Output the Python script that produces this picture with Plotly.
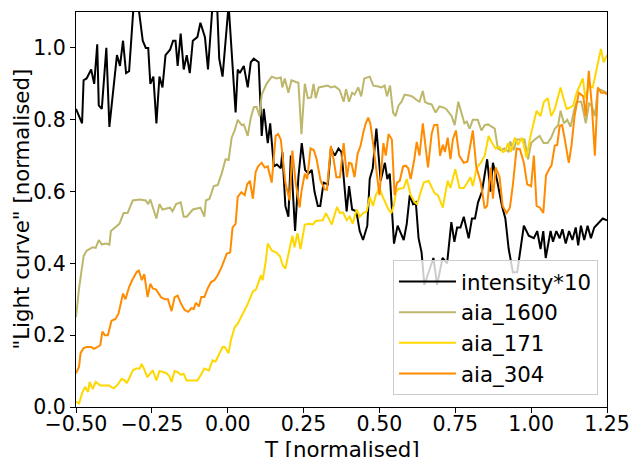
import plotly.graph_objects as go

# ---- data ----
x_int = [-0.5, -0.48, -0.475, -0.465, -0.45, -0.44, -0.43, -0.425, -0.415, -0.40, -0.39, -0.365, -0.355,
         -0.345, -0.335, -0.325, -0.31, -0.295, -0.28, -0.27, -0.262, -0.255, -0.245, -0.235, -0.225,
         -0.215, -0.205, -0.19, -0.18, -0.172, -0.165, -0.155, -0.145, -0.135, -0.125, -0.115, -0.10,
         -0.09, -0.075, -0.065, -0.05, -0.035, -0.028, -0.017, 0.003, 0.013, 0.026, 0.033, 0.04, 0.053,
         0.066, 0.076, 0.086, 0.102, 0.112, 0.119, 0.132, 0.14, 0.152, 0.162, 0.175, 0.18, 0.19, 0.2,
         0.208, 0.222, 0.233, 0.244, 0.255, 0.266, 0.277, 0.286, 0.297, 0.305, 0.316, 0.33, 0.34, 0.353,
         0.365, 0.375, 0.392, 0.40, 0.41, 0.424, 0.435, 0.446, 0.46, 0.468, 0.478, 0.49, 0.504, 0.518,
         0.526, 0.534, 0.548, 0.56, 0.58, 0.59, 0.60, 0.611, 0.62, 0.629, 0.639, 0.648, 0.678, 0.69,
         0.708, 0.723, 0.737, 0.747, 0.756, 0.767, 0.778, 0.794, 0.805, 0.815, 0.825, 0.838, 0.855,
         0.866, 0.874, 0.888, 0.904, 0.915, 0.926, 0.94, 0.954, 0.965, 0.976, 0.992, 1.009, 1.02, 1.031,
         1.04, 1.048, 1.064, 1.072, 1.083, 1.094, 1.103, 1.114, 1.125, 1.136, 1.147, 1.155, 1.164, 1.175,
         1.186, 1.197, 1.208, 1.219, 1.236, 1.25]
y_int = [0.83, 0.79, 0.91, 0.915, 0.94, 0.90, 1.01, 0.84, 0.83, 1.00, 0.78, 0.98, 0.95,
         1.02, 0.93, 0.935, 1.12, 1.12, 1.02, 1.00, 1.00, 0.90, 0.92, 0.79, 0.92,
         0.89, 0.98, 0.995, 1.02, 1.02, 0.95, 1.04, 0.94, 0.98, 0.93, 1.02, 1.03,
         1.07, 1.03, 0.94, 1.12, 1.12, 0.97, 0.92, 1.12, 0.98, 0.82, 0.94, 0.93, 0.95,
         0.89, 0.96, 0.97, 0.96, 0.755, 0.83, 0.735, 0.79, 0.67, 0.675, 0.665, 0.71, 0.56, 0.53,
         0.70, 0.49, 0.64, 0.735, 0.66, 0.65, 0.66, 0.60, 0.56, 0.56, 0.625, 0.62, 0.72, 0.70,
         0.72, 0.71, 0.545, 0.615, 0.55, 0.545, 0.49, 0.465, 0.505, 0.635, 0.665, 0.775, 0.63, 0.68,
         0.635, 0.65, 0.455, 0.505, 0.465, 0.51, 0.59, 0.565, 0.57, 0.47, 0.43, 0.34, 0.415, 0.34,
         0.415, 0.40, 0.515, 0.46, 0.50, 0.50, 0.53, 0.47, 0.525, 0.525, 0.57, 0.60, 0.69,
         0.60, 0.68, 0.63, 0.56, 0.525, 0.44, 0.375, 0.375, 0.44, 0.505, 0.477, 0.47, 0.49, 0.44,
         0.49, 0.415, 0.49, 0.46, 0.49, 0.47, 0.495, 0.455, 0.49, 0.465, 0.50, 0.45, 0.505, 0.465,
         0.505, 0.47, 0.50, 0.51, 0.525, 0.52]

x_1600 = [-0.5, -0.49, -0.475, -0.465, -0.445, -0.435, -0.425, -0.415, -0.40, -0.39, -0.385, -0.37,
          -0.357, -0.343, -0.33, -0.313, -0.29, -0.27, -0.262, -0.255, -0.235, -0.225, -0.215, -0.205,
          -0.19, -0.182, -0.17, -0.155, -0.145, -0.135, -0.115, -0.09, -0.077, -0.072, -0.06, -0.046,
          -0.033, -0.02, -0.007, 0.003, 0.013, 0.023, 0.033, 0.046, 0.053, 0.066, 0.076, 0.086, 0.095,
          0.105, 0.112, 0.128, 0.145, 0.16, 0.175, 0.18, 0.188, 0.2, 0.21, 0.225, 0.233, 0.243, 0.254,
          0.264, 0.275, 0.283, 0.29, 0.30, 0.32, 0.33, 0.34, 0.353, 0.366, 0.37, 0.382, 0.39, 0.40,
          0.41, 0.418, 0.43, 0.44, 0.45, 0.468, 0.48, 0.493, 0.507, 0.517, 0.525, 0.535, 0.545, 0.553,
          0.563, 0.573, 0.583, 0.594, 0.608, 0.623, 0.632, 0.643, 0.65, 0.66, 0.672, 0.685, 0.698,
          0.708, 0.72, 0.738, 0.748, 0.76, 0.77, 0.78, 0.788, 0.797, 0.808, 0.824, 0.836, 0.847, 0.858,
          0.87, 0.88, 0.89, 0.9, 0.912, 0.926, 0.931, 0.942, 0.953, 0.967, 0.978, 0.99, 1.0, 1.012,
          1.028, 1.041, 1.054, 1.066, 1.078, 1.089, 1.097, 1.108, 1.119, 1.13, 1.141, 1.15, 1.165,
          1.173, 1.18, 1.191, 1.199, 1.21, 1.22, 1.231, 1.25]
y_1600 = [0.25, 0.33, 0.42, 0.435, 0.445, 0.443, 0.465, 0.453, 0.455, 0.452, 0.49, 0.50,
          0.51, 0.54, 0.54, 0.575, 0.578, 0.575, 0.565, 0.578, 0.525, 0.565, 0.55, 0.552,
          0.555, 0.545, 0.565, 0.57, 0.53, 0.53, 0.55, 0.555, 0.53, 0.575, 0.58, 0.615,
          0.618, 0.65, 0.69, 0.688, 0.75, 0.77, 0.80, 0.785, 0.787, 0.755, 0.805, 0.835, 0.836,
          0.81, 0.87, 0.90, 0.92, 0.915, 0.918, 0.89, 0.915, 0.875, 0.91, 0.905, 0.903, 0.76, 0.90,
          0.86, 0.862, 0.90, 0.86, 0.89, 0.892, 0.895, 0.89, 0.893, 0.885, 0.88, 0.85, 0.885, 0.85,
          0.875, 0.87, 0.89, 0.865, 0.915, 0.92, 0.895, 0.893, 0.89, 0.895, 0.865, 0.895, 0.82, 0.81,
          0.84, 0.85, 0.87, 0.868, 0.865, 0.855, 0.85, 0.88, 0.85, 0.845, 0.843, 0.82, 0.837,
          0.835, 0.83, 0.81, 0.785, 0.85, 0.82, 0.79, 0.795, 0.775, 0.80, 0.80, 0.77, 0.785, 0.787,
          0.78, 0.775, 0.72, 0.715, 0.72, 0.71, 0.74, 0.715, 0.745, 0.744, 0.745, 0.69, 0.735, 0.745,
          0.755, 0.735, 0.735, 0.75, 0.775, 0.785, 0.825, 0.79, 0.80, 0.78, 0.825, 0.85, 0.85,
          0.82, 0.79, 0.845, 0.84, 0.81, 0.885, 0.883, 0.875]

x_171 = [-0.5, -0.49, -0.48, -0.47, -0.46, -0.455, -0.445, -0.435, -0.42, -0.41, -0.40, -0.39, -0.383,
         -0.375, -0.362, -0.35, -0.34, -0.333, -0.323, -0.313, -0.302, -0.29, -0.284, -0.276, -0.265,
         -0.255, -0.247, -0.235, -0.225, -0.215, -0.2, -0.192, -0.185, -0.175, -0.165, -0.155, -0.145,
         -0.136, -0.125, -0.11, -0.1, -0.088, -0.077, -0.062, -0.05, -0.04, -0.026, -0.017, -0.01,
         0.003, 0.01, 0.023, 0.033, 0.05, 0.066, 0.083, 0.093, 0.11, 0.115, 0.125, 0.132, 0.145, 0.16,
         0.172, 0.182, 0.19, 0.2, 0.213, 0.22, 0.23, 0.24, 0.254, 0.27, 0.28, 0.29, 0.302, 0.313, 0.324,
         0.332, 0.343, 0.36, 0.37, 0.38, 0.392, 0.402, 0.412, 0.425, 0.435, 0.447, 0.458, 0.468, 0.479,
         0.488, 0.5, 0.511, 0.53, 0.539, 0.547, 0.555, 0.563, 0.58, 0.59, 0.603, 0.616, 0.624, 0.636,
         0.646, 0.662, 0.672, 0.682, 0.693, 0.709, 0.716, 0.725, 0.734, 0.742, 0.75, 0.764, 0.778,
         0.79, 0.8, 0.808, 0.82, 0.834, 0.847, 0.86, 0.871, 0.883, 0.896, 0.907, 0.916, 0.924, 0.933,
         0.946, 0.957, 0.97, 0.985, 0.998, 1.018, 1.031, 1.042, 1.055, 1.066, 1.078, 1.097, 1.108,
         1.117, 1.131, 1.139, 1.15, 1.161, 1.17, 1.179, 1.19, 1.203, 1.215, 1.23, 1.239, 1.25]
y_171 = [0.015, 0.01, 0.038, 0.056, 0.042, 0.07, 0.05, 0.07, 0.06, 0.06, 0.06, 0.06, 0.055,
         0.052, 0.063, 0.078, 0.075, 0.066, 0.083, 0.102, 0.107, 0.107, 0.12, 0.107, 0.083,
         0.093, 0.102, 0.074, 0.10, 0.098, 0.093, 0.085, 0.07, 0.10, 0.097, 0.09, 0.092,
         0.074, 0.074, 0.076, 0.074, 0.09, 0.107, 0.102, 0.13, 0.127, 0.15, 0.167, 0.167,
         0.15, 0.185, 0.222, 0.232, 0.26, 0.287, 0.322, 0.327, 0.367, 0.353, 0.403, 0.455, 0.436, 0.43,
         0.42, 0.394, 0.385, 0.426, 0.477, 0.445, 0.484, 0.44, 0.508, 0.51, 0.508, 0.518, 0.52, 0.52,
         0.54, 0.525, 0.508, 0.557, 0.54, 0.542, 0.52, 0.53, 0.51, 0.55, 0.53, 0.54, 0.545, 0.585, 0.56,
         0.59, 0.61, 0.585, 0.55, 0.54, 0.56, 0.60, 0.607, 0.61, 0.635, 0.59, 0.57, 0.565, 0.60,
         0.625, 0.63, 0.61, 0.595, 0.59, 0.555, 0.59, 0.63, 0.61, 0.635, 0.662, 0.61, 0.61,
         0.625, 0.64, 0.615, 0.665, 0.68, 0.70, 0.755, 0.735, 0.72, 0.725, 0.71, 0.715, 0.735, 0.71,
         0.75, 0.73, 0.75, 0.695, 0.755, 0.825, 0.81, 0.85, 0.86, 0.81, 0.83, 0.89, 0.855,
         0.83, 0.835, 0.84, 0.875, 0.895, 0.915, 0.86, 0.895, 0.89, 0.94, 0.997, 0.96, 0.98]

x_304 = [-0.5, -0.49, -0.485, -0.475, -0.465, -0.45, -0.44, -0.43, -0.42, -0.413, -0.405, -0.395,
         -0.383, -0.37, -0.36, -0.345, -0.337, -0.325, -0.315, -0.3, -0.293, -0.283, -0.275, -0.264,
         -0.255, -0.247, -0.236, -0.22, -0.207, -0.197, -0.185, -0.175, -0.165, -0.155, -0.142, -0.13,
         -0.12, -0.112, -0.105, -0.095, -0.087, -0.077, -0.066, -0.055, -0.044, -0.033, -0.02, -0.003,
         0.008, 0.016, 0.026, 0.033, 0.045, 0.056, 0.064, 0.073, 0.083, 0.092, 0.1, 0.112, 0.122,
         0.132, 0.145, 0.158, 0.166, 0.175, 0.183, 0.19, 0.204, 0.213, 0.224, 0.237, 0.243, 0.254,
         0.262, 0.273, 0.284, 0.293, 0.306, 0.32, 0.327, 0.34, 0.349, 0.358, 0.37, 0.382, 0.393, 0.40,
         0.408, 0.418, 0.428, 0.438, 0.447, 0.455, 0.463, 0.47, 0.48, 0.489, 0.5, 0.513, 0.521, 0.53,
         0.541, 0.55, 0.558, 0.567, 0.578, 0.587, 0.595, 0.603, 0.614, 0.623, 0.632, 0.643, 0.651,
         0.66, 0.672, 0.68, 0.691, 0.70, 0.709, 0.716, 0.725, 0.734, 0.742, 0.752, 0.763, 0.778, 0.79,
         0.802, 0.808, 0.819, 0.834, 0.847, 0.855, 0.867, 0.874, 0.883, 0.896, 0.906, 0.919, 0.93,
         0.94, 0.952, 0.963, 0.976, 0.987, 1.0, 1.009, 1.018, 1.029, 1.04, 1.049, 1.062, 1.067, 1.078,
         1.086, 1.094, 1.102, 1.11, 1.124, 1.133, 1.143, 1.157, 1.172, 1.18, 1.19, 1.2, 1.21, 1.22,
         1.231, 1.243, 1.25]
y_304 = [0.094, 0.112, 0.15, 0.164, 0.167, 0.167, 0.162, 0.167, 0.172, 0.21, 0.2, 0.2,
         0.24, 0.245, 0.26, 0.316, 0.30, 0.334, 0.353, 0.376, 0.38, 0.353, 0.37, 0.306,
         0.343, 0.33, 0.327, 0.306, 0.30, 0.30, 0.267, 0.306, 0.31, 0.29, 0.27, 0.265,
         0.275, 0.273, 0.29, 0.28, 0.306, 0.306, 0.33, 0.348, 0.353, 0.367, 0.39, 0.427,
         0.43, 0.50, 0.51, 0.585, 0.598, 0.59, 0.62, 0.63, 0.58, 0.654, 0.67, 0.68, 0.667,
         0.67, 0.625, 0.755, 0.76, 0.745, 0.67, 0.625, 0.575, 0.714, 0.625, 0.556, 0.60, 0.65,
         0.635, 0.72, 0.715, 0.69, 0.63, 0.606, 0.605, 0.727, 0.69, 0.64, 0.64, 0.735, 0.64, 0.68,
         0.678, 0.64, 0.705, 0.728, 0.765, 0.79, 0.806, 0.79, 0.728, 0.672, 0.59, 0.735, 0.70, 0.76,
         0.745, 0.59, 0.625, 0.63, 0.67, 0.672, 0.665, 0.635, 0.685, 0.738, 0.70, 0.79, 0.73,
         0.667, 0.76, 0.785, 0.786, 0.70, 0.73, 0.71, 0.75, 0.69, 0.745, 0.77, 0.70, 0.68, 0.683,
         0.745, 0.77, 0.67, 0.625, 0.553, 0.56, 0.667, 0.58, 0.667, 0.64, 0.56, 0.54, 0.555,
         0.62, 0.72, 0.718, 0.68, 0.62, 0.615, 0.70, 0.56, 0.555, 0.54, 0.645, 0.667, 0.672, 0.728,
         0.73, 0.783, 0.785, 0.75, 0.68, 0.728, 0.81, 0.875, 0.865, 0.81, 0.936, 0.84, 0.70, 0.89,
         0.875, 0.875, 0.87]

x_ticks = [-0.5, -0.25, 0.0, 0.25, 0.5, 0.75, 1.0, 1.25]
y_ticks = [0.0, 0.2, 0.4, 0.6, 0.8, 1.0]
x_title = "T [normalised]"
y_title = '"Light curve" [normalised]'

series = [
    ("intensity*10", x_int, y_int, "#000000"),
    ("aia_1600", x_1600, y_1600, "#bdb76b"),
    ("aia_171", x_171, y_171, "#ffd700"),
    ("aia_304", x_304, y_304, "#ff8c00"),
]

FONT = "DejaVu Sans"
FS_TICK = 20.5
FS = 21.3

fig = go.Figure()
for i, (name, xs, ys, col) in enumerate(series):
    fig.add_trace(go.Scatter(x=xs, y=ys, mode="lines", name=name,
                             line=dict(color=col, width=2)))

axis_common = dict(showline=True, linecolor="black", linewidth=1, mirror=True,
                   ticks="outside", ticklen=5, tickwidth=1, tickcolor="black",
                   showgrid=False, zeroline=False, automargin=False,
                   tickfont=dict(family=FONT, size=FS_TICK, color="black"))

fig.update_xaxes(range=[-0.5, 1.25], tickvals=x_ticks, tickformat=".2f",
                 ticklabelstandoff=-7, **axis_common)
fig.update_yaxes(range=[0, 1.1], tickvals=y_ticks, tickformat=".1f",
                 **axis_common)

# axis titles as paper-anchored text
fig.add_annotation(text=x_title, xref="paper", yref="paper", x=0.5, y=-0.108,
                   xanchor="center", yanchor="middle", showarrow=False,
                   font=dict(family=FONT, size=FS, color="black"))
fig.add_annotation(text=y_title, xref="paper", yref="paper", x=-0.1035, y=0.5,
                   xanchor="center", yanchor="middle", showarrow=False, textangle=-90,
                   font=dict(family=FONT, size=FS, color="black"))

fig.update_layout(
    width=632, height=457,
    margin=dict(l=76, r=25, t=12, b=50),
    paper_bgcolor="white", plot_bgcolor="white",
    font=dict(family=FONT, size=FS, color="black"),
    legend=dict(x=0.983, y=0.030, xanchor="right", yanchor="bottom",
                bgcolor="rgba(255,255,255,0.8)", bordercolor="#cccccc", borderwidth=1,
                font=dict(family=FONT, size=FS, color="black"),
                itemwidth=57),
    showlegend=True,
)

fig.write_html("out.html")
